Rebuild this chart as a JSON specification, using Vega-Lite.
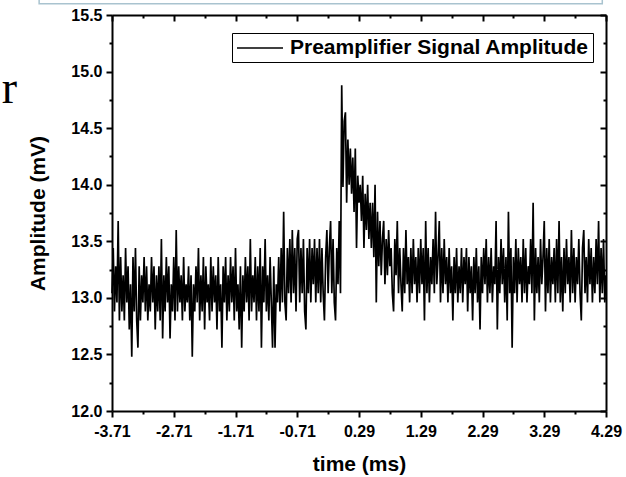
{
  "$schema": "https://vega.github.io/schema/vega-lite/v6.json",
  "width": 494,
  "height": 396,
  "autosize": {"type": "none"},
  "padding": {"left": 112, "top": 15, "right": 20, "bottom": 66},
  "background": "white",
  "config": {
    "view": {"stroke": null},
    "font": "Liberation Sans",
    "axis": {
      "domainColor": "black", "tickColor": "black", "domainWidth": 2, "tickWidth": 2, "grid": false,
      "labelColor": "black", "titleColor": "black", "labelFont": "Liberation Sans", "labelFontWeight": "bold",
      "labelFontSize": 16, "titleFont": "Liberation Sans", "titleFontWeight": "bold", "titleFontSize": 21
    }
  },
  "datasets": {
    "sig": [
      {"t":-3.71,"v":13.04},{"t":-3.69,"v":13.44},{"t":-3.67,"v":12.88},{"t":-3.65,"v":13.28},{"t":-3.63,"v":12.96},{"t":-3.61,"v":13.68},{"t":-3.59,"v":12.80},{"t":-3.57,"v":13.36},{"t":-3.55,"v":12.88},{"t":-3.53,"v":13.20},
      {"t":-3.51,"v":12.80},{"t":-3.49,"v":13.44},{"t":-3.47,"v":12.96},{"t":-3.45,"v":13.28},{"t":-3.43,"v":12.72},{"t":-3.41,"v":13.12},{"t":-3.39,"v":12.48},{"t":-3.37,"v":13.36},{"t":-3.35,"v":12.88},{"t":-3.33,"v":13.44},
      {"t":-3.31,"v":12.80},{"t":-3.29,"v":12.56},{"t":-3.27,"v":13.28},{"t":-3.25,"v":12.80},{"t":-3.23,"v":13.20},{"t":-3.21,"v":12.96},{"t":-3.19,"v":13.36},{"t":-3.17,"v":12.88},{"t":-3.15,"v":13.28},{"t":-3.13,"v":12.80},
      {"t":-3.11,"v":13.12},{"t":-3.09,"v":12.88},{"t":-3.07,"v":13.36},{"t":-3.05,"v":12.96},{"t":-3.03,"v":13.28},{"t":-3.01,"v":12.72},{"t":-2.99,"v":13.20},{"t":-2.97,"v":12.88},{"t":-2.95,"v":13.28},{"t":-2.93,"v":12.80},
      {"t":-2.91,"v":13.52},{"t":-2.89,"v":12.64},{"t":-2.87,"v":13.20},{"t":-2.85,"v":12.88},{"t":-2.83,"v":13.36},{"t":-2.81,"v":12.96},{"t":-2.79,"v":13.28},{"t":-2.77,"v":12.64},{"t":-2.75,"v":13.12},{"t":-2.73,"v":12.88},
      {"t":-2.71,"v":13.36},{"t":-2.69,"v":12.80},{"t":-2.67,"v":13.60},{"t":-2.65,"v":12.88},{"t":-2.63,"v":13.28},{"t":-2.61,"v":12.96},{"t":-2.59,"v":13.20},{"t":-2.57,"v":12.80},{"t":-2.55,"v":13.36},{"t":-2.53,"v":12.88},
      {"t":-2.51,"v":13.12},{"t":-2.49,"v":12.96},{"t":-2.47,"v":13.28},{"t":-2.45,"v":12.80},{"t":-2.43,"v":13.20},{"t":-2.41,"v":12.48},{"t":-2.39,"v":13.12},{"t":-2.37,"v":12.88},{"t":-2.35,"v":13.28},{"t":-2.33,"v":12.96},
      {"t":-2.31,"v":13.44},{"t":-2.29,"v":12.80},{"t":-2.27,"v":13.20},{"t":-2.25,"v":12.88},{"t":-2.23,"v":13.36},{"t":-2.21,"v":12.72},{"t":-2.19,"v":13.28},{"t":-2.17,"v":12.96},{"t":-2.15,"v":13.12},{"t":-2.13,"v":12.80},
      {"t":-2.11,"v":13.36},{"t":-2.09,"v":12.88},{"t":-2.07,"v":13.28},{"t":-2.05,"v":12.96},{"t":-2.03,"v":13.20},{"t":-2.01,"v":12.72},{"t":-1.99,"v":13.36},{"t":-1.97,"v":12.88},{"t":-1.95,"v":13.12},{"t":-1.93,"v":12.56},
      {"t":-1.91,"v":13.28},{"t":-1.89,"v":12.96},{"t":-1.87,"v":13.36},{"t":-1.85,"v":12.80},{"t":-1.83,"v":13.20},{"t":-1.81,"v":12.88},{"t":-1.79,"v":13.36},{"t":-1.77,"v":12.96},{"t":-1.75,"v":13.28},{"t":-1.73,"v":12.80},
      {"t":-1.71,"v":13.44},{"t":-1.69,"v":12.88},{"t":-1.67,"v":13.12},{"t":-1.65,"v":12.72},{"t":-1.63,"v":13.28},{"t":-1.61,"v":12.56},{"t":-1.59,"v":13.20},{"t":-1.57,"v":12.88},{"t":-1.55,"v":13.36},{"t":-1.53,"v":12.96},
      {"t":-1.51,"v":13.28},{"t":-1.49,"v":12.80},{"t":-1.47,"v":13.52},{"t":-1.45,"v":12.88},{"t":-1.43,"v":13.20},{"t":-1.41,"v":12.96},{"t":-1.39,"v":13.36},{"t":-1.37,"v":12.80},{"t":-1.35,"v":13.28},{"t":-1.33,"v":12.88},
      {"t":-1.31,"v":13.44},{"t":-1.29,"v":12.56},{"t":-1.27,"v":13.28},{"t":-1.25,"v":12.96},{"t":-1.23,"v":13.52},{"t":-1.21,"v":12.88},{"t":-1.19,"v":13.20},{"t":-1.17,"v":12.80},{"t":-1.15,"v":13.36},{"t":-1.13,"v":12.96},
      {"t":-1.11,"v":12.56},{"t":-1.09,"v":13.28},{"t":-1.07,"v":12.56},{"t":-1.05,"v":13.12},{"t":-1.03,"v":12.96},{"t":-1.01,"v":13.36},{"t":-0.99,"v":12.88},{"t":-0.97,"v":13.44},{"t":-0.95,"v":12.96},{"t":-0.93,"v":13.76},
      {"t":-0.91,"v":12.96},{"t":-0.89,"v":12.80},{"t":-0.87,"v":13.44},{"t":-0.85,"v":13.04},{"t":-0.83,"v":13.52},{"t":-0.81,"v":12.96},{"t":-0.79,"v":13.60},{"t":-0.77,"v":13.04},{"t":-0.75,"v":13.44},{"t":-0.73,"v":12.88},
      {"t":-0.71,"v":13.52},{"t":-0.69,"v":13.60},{"t":-0.67,"v":12.96},{"t":-0.65,"v":13.44},{"t":-0.63,"v":13.04},{"t":-0.61,"v":13.52},{"t":-0.59,"v":12.88},{"t":-0.57,"v":12.72},{"t":-0.55,"v":13.44},{"t":-0.53,"v":13.04},
      {"t":-0.51,"v":13.52},{"t":-0.49,"v":12.96},{"t":-0.47,"v":13.44},{"t":-0.45,"v":13.12},{"t":-0.43,"v":13.52},{"t":-0.41,"v":12.96},{"t":-0.39,"v":13.44},{"t":-0.37,"v":13.04},{"t":-0.35,"v":13.52},{"t":-0.33,"v":12.96},
      {"t":-0.31,"v":13.44},{"t":-0.29,"v":13.04},{"t":-0.27,"v":12.80},{"t":-0.25,"v":13.36},{"t":-0.23,"v":13.60},{"t":-0.21,"v":13.04},{"t":-0.19,"v":13.44},{"t":-0.17,"v":13.68},{"t":-0.15,"v":13.04},{"t":-0.13,"v":13.52},
      {"t":-0.11,"v":12.96},{"t":-0.09,"v":12.80},{"t":-0.07,"v":13.44},{"t":-0.05,"v":13.12},{"t":-0.03,"v":13.68},{"t":-0.01,"v":13.04},{"t":0.01,"v":14.88},{"t":0.03,"v":13.98},{"t":0.05,"v":14.56},{"t":0.07,"v":14.64},
      {"t":0.09,"v":13.84},{"t":0.11,"v":14.40},{"t":0.13,"v":14.00},{"t":0.15,"v":14.32},{"t":0.17,"v":13.92},{"t":0.19,"v":14.24},{"t":0.21,"v":13.76},{"t":0.23,"v":14.32},{"t":0.25,"v":13.44},{"t":0.27,"v":14.08},
      {"t":0.29,"v":13.84},{"t":0.31,"v":14.00},{"t":0.33,"v":13.68},{"t":0.35,"v":14.08},{"t":0.37,"v":13.44},{"t":0.39,"v":13.92},{"t":0.41,"v":13.60},{"t":0.43,"v":14.00},{"t":0.45,"v":13.52},{"t":0.47,"v":13.84},
      {"t":0.49,"v":13.44},{"t":0.51,"v":13.84},{"t":0.53,"v":13.36},{"t":0.55,"v":14.00},{"t":0.57,"v":12.96},{"t":0.59,"v":13.76},{"t":0.61,"v":13.28},{"t":0.63,"v":13.68},{"t":0.65,"v":13.20},{"t":0.67,"v":13.52},
      {"t":0.69,"v":13.68},{"t":0.71,"v":13.12},{"t":0.73,"v":13.52},{"t":0.75,"v":13.20},{"t":0.77,"v":13.60},{"t":0.79,"v":13.28},{"t":0.81,"v":13.44},{"t":0.83,"v":13.04},{"t":0.85,"v":12.88},{"t":0.87,"v":13.52},
      {"t":0.89,"v":13.20},{"t":0.91,"v":13.68},{"t":0.93,"v":13.04},{"t":0.95,"v":13.44},{"t":0.97,"v":13.12},{"t":0.99,"v":12.88},{"t":1.01,"v":13.44},{"t":1.03,"v":13.04},{"t":1.05,"v":13.60},{"t":1.07,"v":13.12},
      {"t":1.09,"v":13.36},{"t":1.11,"v":12.96},{"t":1.13,"v":13.44},{"t":1.15,"v":13.04},{"t":1.17,"v":13.52},{"t":1.19,"v":13.12},{"t":1.21,"v":13.36},{"t":1.23,"v":12.96},{"t":1.25,"v":13.44},{"t":1.27,"v":13.04},
      {"t":1.29,"v":13.52},{"t":1.31,"v":13.12},{"t":1.33,"v":13.44},{"t":1.35,"v":12.80},{"t":1.37,"v":13.68},{"t":1.39,"v":13.04},{"t":1.41,"v":13.44},{"t":1.43,"v":12.96},{"t":1.45,"v":13.36},{"t":1.47,"v":13.12},
      {"t":1.49,"v":13.52},{"t":1.51,"v":13.04},{"t":1.53,"v":13.76},{"t":1.55,"v":13.12},{"t":1.57,"v":13.36},{"t":1.59,"v":13.68},{"t":1.61,"v":12.96},{"t":1.63,"v":13.44},{"t":1.65,"v":13.04},{"t":1.67,"v":13.52},
      {"t":1.69,"v":13.12},{"t":1.71,"v":13.36},{"t":1.73,"v":12.96},{"t":1.75,"v":13.44},{"t":1.77,"v":13.04},{"t":1.79,"v":13.28},{"t":1.81,"v":12.80},{"t":1.83,"v":13.36},{"t":1.85,"v":13.04},{"t":1.87,"v":13.44},
      {"t":1.89,"v":12.96},{"t":1.91,"v":13.28},{"t":1.93,"v":13.04},{"t":1.95,"v":13.44},{"t":1.97,"v":12.96},{"t":1.99,"v":13.36},{"t":2.01,"v":13.12},{"t":2.03,"v":13.44},{"t":2.05,"v":12.88},{"t":2.07,"v":13.36},
      {"t":2.09,"v":13.04},{"t":2.11,"v":13.28},{"t":2.13,"v":12.80},{"t":2.15,"v":13.36},{"t":2.17,"v":13.04},{"t":2.19,"v":13.44},{"t":2.21,"v":12.96},{"t":2.23,"v":13.28},{"t":2.25,"v":12.72},{"t":2.27,"v":13.36},
      {"t":2.29,"v":13.04},{"t":2.31,"v":13.44},{"t":2.33,"v":13.12},{"t":2.35,"v":13.52},{"t":2.37,"v":12.96},{"t":2.39,"v":13.36},{"t":2.41,"v":13.04},{"t":2.43,"v":13.44},{"t":2.45,"v":12.96},{"t":2.47,"v":13.28},
      {"t":2.49,"v":13.12},{"t":2.51,"v":13.68},{"t":2.53,"v":12.72},{"t":2.55,"v":13.36},{"t":2.57,"v":13.04},{"t":2.59,"v":13.52},{"t":2.61,"v":13.12},{"t":2.63,"v":13.44},{"t":2.65,"v":12.96},{"t":2.67,"v":13.36},
      {"t":2.69,"v":12.80},{"t":2.71,"v":13.76},{"t":2.73,"v":13.04},{"t":2.75,"v":13.44},{"t":2.77,"v":12.56},{"t":2.79,"v":13.36},{"t":2.81,"v":13.04},{"t":2.83,"v":13.52},{"t":2.85,"v":12.96},{"t":2.87,"v":13.44},
      {"t":2.89,"v":13.12},{"t":2.91,"v":13.36},{"t":2.93,"v":12.96},{"t":2.95,"v":13.52},{"t":2.97,"v":13.04},{"t":2.99,"v":13.44},{"t":3.01,"v":12.96},{"t":3.03,"v":13.28},{"t":3.05,"v":13.12},{"t":3.07,"v":13.52},
      {"t":3.09,"v":13.04},{"t":3.11,"v":13.84},{"t":3.13,"v":12.80},{"t":3.15,"v":13.44},{"t":3.17,"v":13.04},{"t":3.19,"v":13.36},{"t":3.21,"v":12.96},{"t":3.23,"v":13.52},{"t":3.25,"v":13.12},{"t":3.27,"v":13.36},
      {"t":3.29,"v":13.68},{"t":3.31,"v":12.88},{"t":3.33,"v":13.44},{"t":3.35,"v":13.04},{"t":3.37,"v":13.52},{"t":3.39,"v":12.96},{"t":3.41,"v":13.36},{"t":3.43,"v":13.12},{"t":3.45,"v":13.44},{"t":3.47,"v":12.96},
      {"t":3.49,"v":13.52},{"t":3.51,"v":13.04},{"t":3.53,"v":13.68},{"t":3.55,"v":12.96},{"t":3.57,"v":13.36},{"t":3.59,"v":12.88},{"t":3.61,"v":13.44},{"t":3.63,"v":13.04},{"t":3.65,"v":13.52},{"t":3.67,"v":13.12},
      {"t":3.69,"v":13.36},{"t":3.71,"v":12.96},{"t":3.73,"v":13.60},{"t":3.75,"v":13.04},{"t":3.77,"v":13.44},{"t":3.79,"v":12.96},{"t":3.81,"v":13.36},{"t":3.83,"v":13.12},{"t":3.85,"v":13.52},{"t":3.87,"v":13.04},
      {"t":3.89,"v":12.80},{"t":3.91,"v":13.44},{"t":3.93,"v":13.60},{"t":3.95,"v":13.04},{"t":3.97,"v":13.36},{"t":3.99,"v":12.96},{"t":4.01,"v":13.52},{"t":4.03,"v":13.12},{"t":4.05,"v":13.44},{"t":4.07,"v":12.96},
      {"t":4.09,"v":13.36},{"t":4.11,"v":13.04},{"t":4.13,"v":13.52},{"t":4.15,"v":13.12},{"t":4.17,"v":13.68},{"t":4.19,"v":12.96},{"t":4.21,"v":13.44},{"t":4.23,"v":13.04},{"t":4.25,"v":13.52},{"t":4.27,"v":12.96},
      {"t":4.29,"v":13.20}
    ],
    "anchor": [{"t": 0.29, "v": 13.75}],
    "frame": [{"t": -4.89, "t2": 4.23, "v": 15.6, "v2": 15.95}],
    "stray": [{"t": -5.37, "v": 14.72, "label": "r"}]
  },
  "resolve": {"axis": {"x": "independent", "y": "independent"}},
  "layer": [
    {
      "data": {"name": "sig"},
      "mark": {"type": "line", "strokeWidth": 1.7, "interpolate": "linear"},
      "encoding": {
        "x": {"field": "t", "type": "quantitative",
              "scale": {"domain": [-3.71, 4.29], "nice": false, "zero": false},
              "axis": {"orient": "bottom", "values": [-3.71, -2.71, -1.71, -0.71, 0.29, 1.29, 2.29, 3.29, 4.29], "format": ".2f", "labelExpr": "replace(datum.label, '\u2212', '-')", "tickSize": 6, "labelPadding": 6, "title": "time (ms)", "titlePadding": 14, "labelFlush": false, "labelOverlap": false}},
        "y": {"field": "v", "type": "quantitative",
              "scale": {"domain": [12, 15.5], "nice": false, "zero": false},
              "axis": {"orient": "left", "values": [12, 12.5, 13, 13.5, 14, 14.5, 15, 15.5], "format": ".1f", "tickSize": 6, "labelPadding": 4, "title": "Amplitude (mV)", "titlePadding": 22, "labelFlush": false, "labelOverlap": false}},
        "color": {"datum": "Preamplifier Signal Amplitude", "type": "nominal",
                  "scale": {"range": ["black"]},
                  "legend": {"orient": "none", "legendX": 120, "legendY": 18, "title": null,
                             "strokeColor": "black", "fillColor": "white", "padding": 4,
                             "symbolType": "M-1,0H3.6", "symbolSize": 400, "symbolStrokeWidth": 1.5, "symbolStrokeColor": "black",
                             "labelFont": "Liberation Sans", "labelFontWeight": "bold", "labelFontSize": 21, "labelColor": "black", "labelOffset": 32, "labelLimit": 0}}
      }
    },
    {
      "data": {"name": "anchor"},
      "mark": {"type": "point", "opacity": 0},
      "encoding": {
        "x": {"field": "t", "type": "quantitative", "scale": {"domain": [-3.71, 4.29], "nice": false, "zero": false},
              "axis": {"orient": "bottom", "values": [-3.21, -2.21, -1.21, -0.21, 0.79, 1.79, 2.79, 3.79], "labels": false, "domain": false, "tickSize": 3, "title": null}}
      }
    },
    {
      "data": {"name": "anchor"},
      "mark": {"type": "point", "opacity": 0},
      "encoding": {
        "x": {"field": "t", "type": "quantitative", "scale": {"domain": [-3.71, 4.29], "nice": false, "zero": false},
              "axis": {"orient": "top", "values": [-3.71, -2.71, -1.71, -0.71, 0.29, 1.29, 2.29, 3.29, 4.29], "labels": false, "domain": true, "tickSize": -6, "title": null}}
      }
    },
    {
      "data": {"name": "anchor"},
      "mark": {"type": "point", "opacity": 0},
      "encoding": {
        "x": {"field": "t", "type": "quantitative", "scale": {"domain": [-3.71, 4.29], "nice": false, "zero": false},
              "axis": {"orient": "top", "values": [-3.21, -2.21, -1.21, -0.21, 0.79, 1.79, 2.79, 3.79], "labels": false, "domain": false, "tickSize": -3, "title": null}}
      }
    },
    {
      "data": {"name": "anchor"},
      "mark": {"type": "point", "opacity": 0},
      "encoding": {
        "y": {"field": "v", "type": "quantitative", "scale": {"domain": [12, 15.5], "nice": false, "zero": false},
              "axis": {"orient": "left", "values": [12.25, 12.75, 13.25, 13.75, 14.25, 14.75, 15.25], "labels": false, "domain": false, "tickSize": 3, "title": null}}
      }
    },
    {
      "data": {"name": "anchor"},
      "mark": {"type": "point", "opacity": 0},
      "encoding": {
        "y": {"field": "v", "type": "quantitative", "scale": {"domain": [12, 15.5], "nice": false, "zero": false},
              "axis": {"orient": "right", "values": [12, 12.5, 13, 13.5, 14, 14.5, 15, 15.5], "labels": false, "domain": true, "tickSize": -6, "title": null}}
      }
    },
    {
      "data": {"name": "anchor"},
      "mark": {"type": "point", "opacity": 0},
      "encoding": {
        "y": {"field": "v", "type": "quantitative", "scale": {"domain": [12, 15.5], "nice": false, "zero": false},
              "axis": {"orient": "right", "values": [12.25, 12.75, 13.25, 13.75, 14.25, 14.75, 15.25], "labels": false, "domain": false, "tickSize": -3, "title": null}}
      }
    },
    {
      "data": {"name": "frame"},
      "mark": {"type": "rect", "fill": null, "fillOpacity": 0, "stroke": "#a9c3cf", "strokeWidth": 1.5},
      "encoding": {
        "x": {"field": "t", "type": "quantitative", "scale": {"domain": [-3.71, 4.29], "nice": false, "zero": false}, "axis": null},
        "x2": {"field": "t2"},
        "y": {"field": "v", "type": "quantitative", "scale": {"domain": [12, 15.5], "nice": false, "zero": false}, "axis": null},
        "y2": {"field": "v2"}
      }
    },
    {
      "data": {"name": "stray"},
      "mark": {"type": "text", "font": "Liberation Serif", "fontSize": 46, "color": "black", "align": "center", "baseline": "alphabetic"},
      "encoding": {
        "x": {"field": "t", "type": "quantitative", "scale": {"domain": [-3.71, 4.29], "nice": false, "zero": false}, "axis": null},
        "y": {"field": "v", "type": "quantitative", "scale": {"domain": [12, 15.5], "nice": false, "zero": false}, "axis": null},
        "text": {"field": "label"}
      }
    }
  ]
}
